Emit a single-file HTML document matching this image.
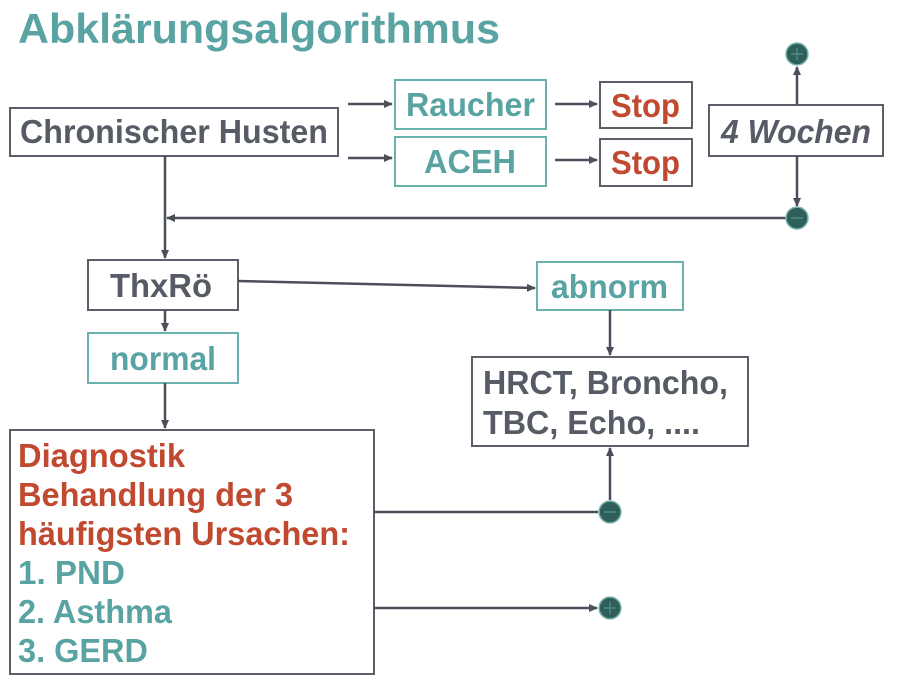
<!DOCTYPE html>
<html><head><meta charset="utf-8"><style>
html,body{margin:0;padding:0;background:#fff;}
svg{display:block;font-family:"Liberation Sans",Arial,sans-serif;font-weight:bold;}
</style></head><body>
<svg width="900" height="692" viewBox="0 0 900 692" xmlns="http://www.w3.org/2000/svg">
<defs>
<marker id="a" markerWidth="9" markerHeight="9" refX="8" refY="4.5" orient="auto" markerUnits="userSpaceOnUse">
<path d="M0,0.5 L9,4.5 L0,8.5 z" fill="#4a4f5a"/></marker>
</defs>
<text x="18" y="43" font-size="42" fill="#5aa3a3" textLength="482" lengthAdjust="spacingAndGlyphs">Abklärungsalgorithmus</text>
<g fill="#fff" stroke-width="2">
<rect x="10" y="108" width="328" height="48" stroke="#5a5f6a"/>
<rect x="395" y="80" width="151" height="49" stroke="#6ab0ad"/>
<rect x="395" y="137" width="151" height="49" stroke="#6ab0ad"/>
<rect x="600" y="82" width="92" height="46" stroke="#5a5f6a"/>
<rect x="600" y="139" width="92" height="47" stroke="#5a5f6a"/>
<rect x="709" y="105" width="174" height="51" stroke="#5a5f6a"/>
<rect x="88" y="260" width="150" height="50" stroke="#5a5f6a"/>
<rect x="537" y="262" width="146" height="48" stroke="#6ab0ad"/>
<rect x="88" y="333" width="150" height="50" stroke="#6ab0ad"/>
<rect x="472" y="357" width="276" height="89" stroke="#5a5f6a"/>
<rect x="10" y="430" width="364" height="244" stroke="#5a5f6a"/>
</g>
<g stroke="#4a4f5a" stroke-width="2.5" fill="none">
<line x1="348" y1="104" x2="392" y2="104" marker-end="url(#a)"/>
<line x1="348" y1="158" x2="392" y2="158" marker-end="url(#a)"/>
<line x1="555" y1="104" x2="597" y2="104" marker-end="url(#a)"/>
<line x1="555" y1="160" x2="597" y2="160" marker-end="url(#a)"/>
<line x1="797" y1="105" x2="797" y2="67" marker-end="url(#a)"/>
<line x1="797" y1="156" x2="797" y2="206" marker-end="url(#a)"/>
<line x1="786" y1="218" x2="167" y2="218" marker-end="url(#a)"/>
<line x1="165" y1="156" x2="165" y2="258" marker-end="url(#a)"/>
<line x1="238" y1="281" x2="535" y2="288" marker-end="url(#a)"/>
<line x1="165" y1="310" x2="165" y2="331" marker-end="url(#a)"/>
<line x1="165" y1="383" x2="165" y2="428" marker-end="url(#a)"/>
<line x1="610" y1="310" x2="610" y2="355" marker-end="url(#a)"/>
<line x1="374" y1="512" x2="598" y2="512"/>
<line x1="610" y1="500" x2="610" y2="448" marker-end="url(#a)"/>
<line x1="374" y1="608" x2="597" y2="608" marker-end="url(#a)"/>
</g>
<g fill="#2f5f5a" stroke="#7fb8b2" stroke-width="1.5">
<circle cx="797" cy="54" r="11"/><circle cx="797" cy="218" r="11"/>
<circle cx="610" cy="512" r="11"/><circle cx="610" cy="608" r="11"/>
</g>
<g stroke="#4f8a85" stroke-width="1.5">
<line x1="791" y1="54" x2="803" y2="54"/><line x1="797" y1="48" x2="797" y2="60"/>
<line x1="791" y1="218" x2="803" y2="218"/>
<line x1="604" y1="512" x2="616" y2="512"/>
<line x1="604" y1="608" x2="616" y2="608"/><line x1="610" y1="602" x2="610" y2="614"/>
</g>
<g font-size="33">
<text x="20" y="143" fill="#565b66" textLength="308" lengthAdjust="spacingAndGlyphs">Chronischer Husten</text>
<text x="406" y="116" fill="#5aa3a3" textLength="129" lengthAdjust="spacingAndGlyphs">Raucher</text>
<text x="424" y="173" fill="#5aa3a3" textLength="92" lengthAdjust="spacingAndGlyphs">ACEH</text>
<text x="611" y="117" fill="#c0492f" textLength="69" lengthAdjust="spacingAndGlyphs">Stop</text>
<text x="611" y="174" fill="#c0492f" textLength="69" lengthAdjust="spacingAndGlyphs">Stop</text>
<text x="721" y="143" fill="#565b66" font-style="italic" textLength="150" lengthAdjust="spacingAndGlyphs">4 Wochen</text>
<text x="110" y="297" fill="#565b66" textLength="102" lengthAdjust="spacingAndGlyphs">ThxRö</text>
<text x="551" y="298" fill="#5aa3a3" textLength="117" lengthAdjust="spacingAndGlyphs">abnorm</text>
<text x="110" y="370" fill="#5aa3a3" textLength="106" lengthAdjust="spacingAndGlyphs">normal</text>
<text x="483" y="394" fill="#565b66" textLength="245" lengthAdjust="spacingAndGlyphs">HRCT, Broncho,</text>
<text x="483" y="434" fill="#565b66" textLength="217" lengthAdjust="spacingAndGlyphs">TBC, Echo, ....</text>
<text x="18" y="467" fill="#c0492f" textLength="167" lengthAdjust="spacingAndGlyphs">Diagnostik</text>
<text x="18" y="506" fill="#c0492f" textLength="275" lengthAdjust="spacingAndGlyphs">Behandlung der 3</text>
<text x="18" y="545" fill="#c0492f" textLength="332" lengthAdjust="spacingAndGlyphs">häufigsten Ursachen:</text>
<text x="18" y="584" fill="#5aa3a3" textLength="107" lengthAdjust="spacingAndGlyphs">1. PND</text>
<text x="18" y="623" fill="#5aa3a3" textLength="154" lengthAdjust="spacingAndGlyphs">2. Asthma</text>
<text x="18" y="662" fill="#5aa3a3" textLength="130" lengthAdjust="spacingAndGlyphs">3. GERD</text>
</g>
</svg>
</body></html>
